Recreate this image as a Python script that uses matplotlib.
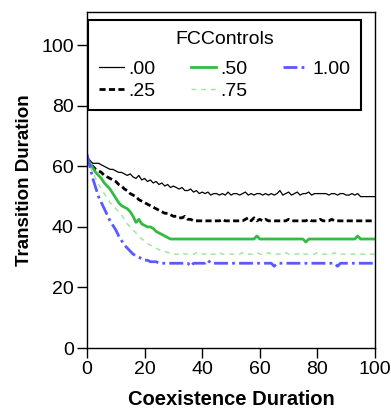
import numpy as np
import matplotlib
matplotlib.use('Agg')
import matplotlib.pyplot as plt

plt.rcParams['font.family'] = ['Liberation Sans', 'DejaVu Sans']

coexist = list(range(0, 101))

fc00 = [63, 62, 61, 61, 61, 60.5, 60, 59.5, 59, 59, 58.5,
        58, 58, 57.5, 57, 57.5, 56.5, 56, 57, 55.5, 56,
        55, 55.5, 54.5, 55, 54, 54.5, 53.5, 54, 53, 53.5,
        53, 52.5, 53, 52, 52, 52.5, 51.5, 52, 51, 51.5,
        51, 51.5, 50.5, 51, 51, 50.5, 51, 50.5, 51.5, 50.5,
        51, 51, 50.5, 51, 51.5, 50.5, 51, 50.5, 51, 51,
        50.5, 51, 50.5, 51, 50.5, 51, 52, 50.5, 51, 51.5,
        50.5, 51, 51.5, 50.5, 51, 51, 51.5, 50.5, 51, 51,
        51, 51, 51, 50.5, 51, 51, 50.5, 51, 51, 50.5,
        50.5, 51, 50.5, 51, 50, 50, 50, 50, 50, 50]

fc25 = [63, 61, 60, 59, 58.5, 58, 57, 56.5, 56, 55.5, 55,
        54, 53.5, 52.5, 52, 51, 50.5, 50, 49, 48.5, 48,
        47.5, 47, 46.5, 46, 45.5, 45, 44.5, 44.5, 44, 43.5,
        43.5, 43, 43, 43.5, 42.5, 42.5, 42, 42, 42, 42,
        42, 42, 42, 42, 42, 42, 42.5, 42, 42, 42,
        42, 42, 42, 42, 42.5, 43, 42, 43, 42, 42.5,
        42, 42.5, 42, 42, 42, 42, 42, 42, 42, 42.5,
        42, 42, 42, 42, 42, 42, 42.5, 42, 42, 42,
        42.5, 42, 42, 42, 42.5, 42, 42, 42, 42, 42,
        42, 42, 42, 42, 42, 42, 42, 42, 42, 42]

fc50 = [63, 61, 59.5, 58, 57, 56, 54.5, 53.5, 52.5, 51, 49.5,
        48, 47, 46.5, 46, 45, 43.5, 41.5, 42.5, 41, 40.5,
        40, 40, 39.5, 38.5, 38, 37.5, 37, 36.5, 36, 36,
        36, 36, 36, 36, 36, 36, 36, 36, 36, 36,
        36, 36, 36, 36, 36, 36, 36, 36, 36, 36,
        36, 36, 36, 36, 36, 36, 36, 36, 37, 36,
        36, 36, 36, 36, 36, 36, 36, 36, 36, 36,
        36, 36, 36, 36, 36, 35, 36, 36, 36, 36,
        36, 36, 36, 36, 36, 36, 36, 36, 36, 36,
        36, 36, 36, 37, 36, 36, 36, 36, 36, 36]

fc75 = [63, 60, 58, 56, 54, 52.5, 51, 49.5, 48, 47, 46,
        45, 44, 42.5, 41, 40, 39, 38, 37, 36, 35.5,
        34.5, 34, 33.5, 33, 32.5, 32, 32, 31.5, 31.5, 31,
        31, 31, 31.5, 31, 31, 31, 31, 31.5, 31, 31,
        31, 31.5, 31, 31, 31, 31.5, 31, 31, 31, 31,
        31, 31, 31, 31.5, 31, 31, 31, 31, 31.5, 31,
        31, 31, 31.5, 31, 31, 31, 31, 31, 31.5, 31,
        31, 31, 31, 31.5, 31, 31, 31, 31, 31, 31.5,
        31, 31, 31, 31, 31, 31.5, 31, 31, 31, 31,
        31, 31, 31, 31, 31, 31, 31, 31, 31, 31]

fc100 = [64, 60, 56, 53, 50, 48, 46, 44, 42, 40.5, 39,
         37, 35.5, 34, 33, 32, 31, 30.5, 30, 29.5, 29,
         29, 28.5, 28.5, 28.5, 28, 28, 28, 28, 28, 28,
         28, 28, 28, 28, 28, 27, 28, 28, 28, 28,
         28, 29, 28, 28, 28, 28, 28, 28, 28, 28,
         28, 28, 28, 28, 28, 28, 28, 28, 28, 28,
         28, 28, 28, 28, 27, 28, 28, 28, 28, 28,
         28, 28, 28, 28, 28, 28, 28, 28, 28, 28,
         28, 28, 28, 28, 28, 28, 27, 28, 28, 28,
         28, 28, 28, 28, 28, 28, 28, 28, 28, 28]

labels = ['.00', '.25', '.50', '.75', '1.00']

fig = plt.figure(figsize=(3.91, 4.09), dpi=100)
ax = fig.add_axes([0.2225, 0.149, 0.7365, 0.822])

ax.plot(coexist, fc00, color='black', lw=0.9, label=labels[0])
ax.plot(coexist, fc25, color='black', lw=2.0, dashes=(2.2, 1.2), label=labels[1])
ax.plot(coexist, fc50, color='#33bb44', lw=2.0, label=labels[2])
ax.plot(coexist, fc75, color='#99e699', lw=1.0, dashes=(3.5, 3.5), label=labels[3])
ax.plot(coexist, fc100, color='#5a5aff', lw=2.0, dashes=(5, 1.5, 1, 1.5), label=labels[4])

ax.set_xlim(0, 100)
ax.set_ylim(0, 111)
ax.set_xticks([0, 20, 40, 60, 80, 100])
ax.set_yticks([0, 20, 40, 60, 80, 100])
ax.tick_params(direction='out', length=7.5, width=1, labelsize=14, pad=2)
for s in ax.spines.values():
    s.set_linewidth(1)

ax.set_xlabel('Coexistence Duration', fontsize=14.5, fontweight='bold', labelpad=8.5)
ax.set_ylabel('Transition Duration', fontsize=13.5, fontweight='bold', labelpad=6)

leg = ax.legend(ncol=3, title='FCControls', loc='upper left',
                bbox_to_anchor=(0.0035, 0.976, 0.948, 0.0), mode='expand',
                borderaxespad=0,
                fontsize=14, title_fontsize=14, handlelength=1.3,
                handletextpad=0.2, labelspacing=0.22, borderpad=0.55,
                fancybox=False, framealpha=1, edgecolor='black')
leg.get_frame().set_linewidth(1.5)
# extra gap between the title and the entries
leg._legend_box.sep = 9

fig.savefig('out.png', dpi=100)
